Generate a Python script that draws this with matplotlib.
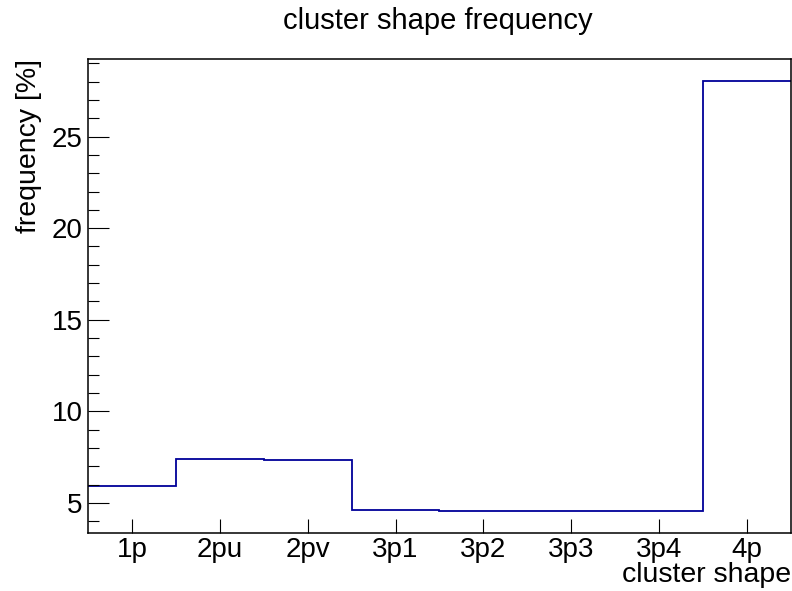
import numpy as np
import matplotlib.pyplot as plt
from matplotlib.ticker import MultipleLocator

plt.rcParams['font.family'] = ['Liberation Sans', 'DejaVu Sans']

# 各簇形状的频率 (%)
shapes = ['1p', '2pu', '2pv', '3p1', '3p2', '3p3', '3p4', '4p']
freq = [5.93, 7.38, 7.35, 4.60, 4.53, 4.56, 4.53, 28.06]

edges = np.arange(len(shapes) + 1) - 0.5
centers = np.arange(len(shapes))

fig = plt.figure(figsize=(7.92, 5.91), dpi=100)
ax = fig.add_axes([0.1111, 0.0981, 0.8876, 0.8021])

ax.stairs(freq, edges, baseline=None, color='#000099', linewidth=1.3)

# ROOT风格的y范围: 上下各留5%
span = max(freq) - min(freq)
ax.set_xlim(edges[0], edges[-1])
ax.set_ylim(min(freq) - 0.05 * span, max(freq) + 0.05 * span)

ax.set_xticks(centers)
ax.set_xticklabels(shapes)
ax.yaxis.set_major_locator(MultipleLocator(5))
ax.yaxis.set_minor_locator(MultipleLocator(1))

ax.tick_params(axis='x', which='major', direction='in', length=10, width=0.8,
               labelsize=20, pad=3)
ax.tick_params(axis='y', which='major', direction='in', length=15, width=0.8,
               labelsize=20, pad=4)
ax.tick_params(axis='y', which='minor', direction='in', length=8, width=0.8)
ax.tick_params(top=False, right=False)

for s in ax.spines.values():
    s.set_linewidth(1.1)

ax.set_xlabel('cluster shape', fontsize=20.5, loc='right', labelpad=-0.5)
ax.set_ylabel('frequency [%]', fontsize=20.5, loc='top', labelpad=7)
fig.text(0.553, 0.965, 'cluster shape frequency', fontsize=21,
         ha='center', va='center')

plt.savefig('out.png', dpi=100)
